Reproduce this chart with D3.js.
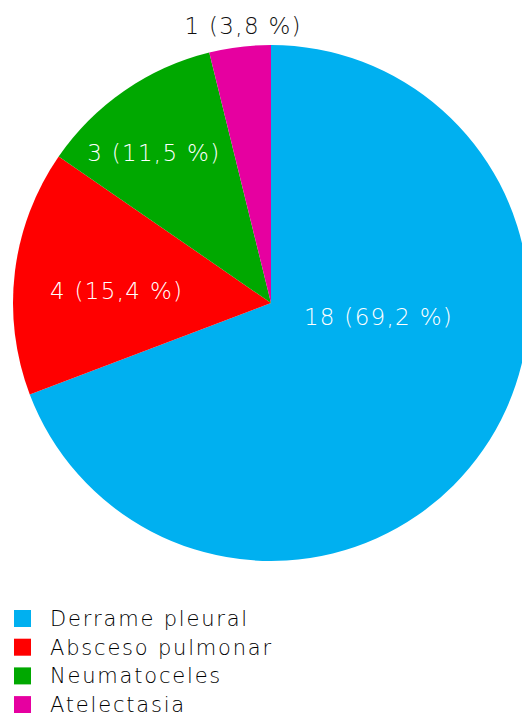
<!DOCTYPE html>
<html><head><meta charset="utf-8">
<script src="https://cdn.jsdelivr.net/npm/d3@7"></script>
<style>body{margin:0;background:#fff;overflow:hidden}</style>
</head><body>
<svg id="c" width="522" height="713"></svg>
<script>
const categories = ["Derrame pleural", "Absceso pulmonar", "Neumatoceles", "Atelectasia"];
const values = [18, 4, 3, 1];
const labels = ["18 (69,2 %)", "4 (15,4 %)", "3 (11,5 %)", "1 (3,8 %)"];
const colors = ["#00b0f0", "#ff0000", "#00a800", "#e600a0"];

const svg = d3.select("#c");
const cx = 271, cy = 303, R = 258;
const g = svg.append("g").attr("transform", `translate(${cx},${cy})`);
const pie = d3.pie().sort(null).value(d => d)(values);
const arc = d3.arc().innerRadius(0).outerRadius(R);
g.selectAll("path").data(pie).join("path")
  .attr("d", arc).attr("fill", (d, i) => colors[i]);

// label placement: radius fraction and angle shift (radians) per slice
const labR = [0.42, 0.6, 0.737, 1.081];
const labShift = [-0.478, -0.042, -0.06, 0.021];
const labColor = ["#fff", "#fff", "#fff", "#111"];
g.selectAll("text.l").data(pie).join("text")
  .attr("class", "l")
  .each(function(d, i) {
    const a = (d.startAngle + d.endAngle) / 2 + labShift[i];
    const r = R * labR[i];
    d3.select(this).attr("x", Math.sin(a) * r).attr("y", -Math.cos(a) * r);
  })
  .attr("dy", "0.35em")
  .attr("text-anchor", "middle")
  .attr("font-family", "DejaVu Sans, Verdana, sans-serif")
  .attr("font-weight", 300)
  .attr("font-size", 23)
  .attr("letter-spacing", 1.3)
  .attr("fill", (d, i) => labColor[i])
  .text((d, i) => labels[i]);

const lg = svg.append("g").attr("transform", "translate(14,610)");
const row = lg.selectAll("g").data(categories).join("g")
  .attr("transform", (d, i) => `translate(0,${i * 28.7})`);
row.append("rect").attr("width", 17).attr("height", 17).attr("fill", (d, i) => colors[i]);
row.append("text").attr("x", 36).attr("y", 16)
  .attr("font-family", "DejaVu Sans, Verdana, sans-serif")
  .attr("font-weight", 300)
  .attr("font-size", 21).attr("letter-spacing", 1.8)
  .attr("fill", "#000").text(d => d);
</script>
</body></html>
